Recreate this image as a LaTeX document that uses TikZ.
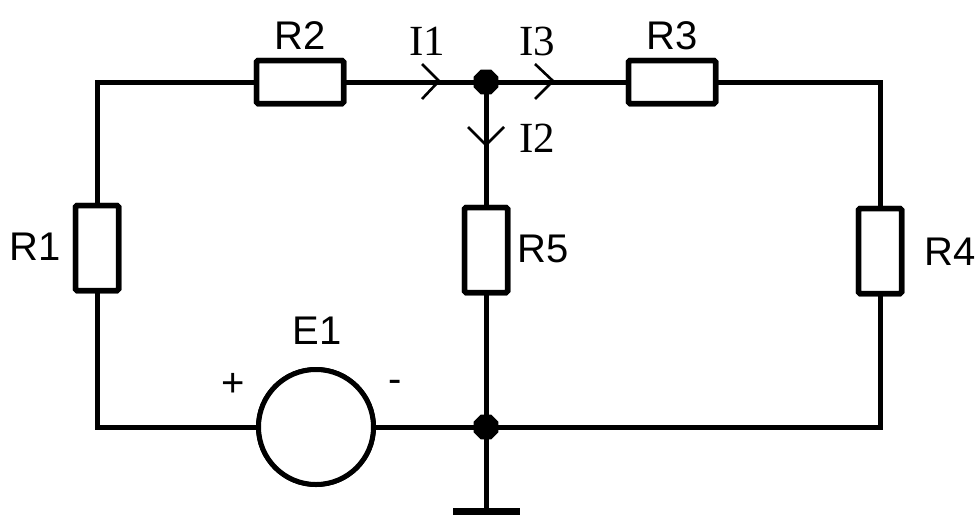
\documentclass[tikz,border=0pt]{standalone}
\usepackage{fontspec}
\usetikzlibrary{shapes.geometric}
\setmainfont{Liberation Sans}
\newfontfamily\serifface{Liberation Serif}
\begin{document}
\begin{tikzpicture}[x=1pt,y=-1pt,
  wire/.style={line width=5pt},
  resv/.style={draw,line width=5.5pt,rounded corners=1.5pt,fill=white,inner sep=0pt,minimum width=43pt,minimum height=85pt},
  resh/.style={draw,line width=5.5pt,rounded corners=1.5pt,fill=white,inner sep=0pt,minimum width=87pt,minimum height=43pt},
  src/.style={draw,circle,line width=5pt,fill=white,inner sep=0pt,minimum size=115pt},
  dot/.style={regular polygon,regular polygon sides=8,fill=black,inner sep=0pt,minimum size=27pt},
  lab/.style={inner sep=0pt,font=\fontsize{40}{40}\selectfont},
  ilab/.style={inner sep=0pt,font=\serifface\fontsize{43}{43}\selectfont},
  chev/.style={line width=2.6pt}]
\useasboundingbox (0,0) rectangle (979,514);
% components
\node[resv] (R1) at (97,248) {};
\node[resh] (R2) at (300,82) {};
\node[resh] (R3) at (672,82) {};
\node[resv] (R4) at (880,251) {};
\node[resv] (R5) at (486,250) {};
\node[src]  (E1) at (316,427) {};
\coordinate (jt) at (486,82);
\coordinate (jb) at (486,427);
\coordinate (gnd) at (486,508);
\coordinate (gl) at (453,511);
\coordinate (gr) at (520,511);
% wires
\draw[wire] (R1.north) |- (R2.west);
\draw[wire] (R2.east) -- (jt) -- (R3.west);
\draw[wire] (R3.east) -| (R4.north);
\draw[wire] (R4.south) |- (jb);
\draw[wire] (R1.south) |- (E1.west);
\draw[wire] (E1.east) -- (jb);
\draw[wire] (jt) -- (R5.north);
\draw[wire] (R5.south) -- (jb);
\draw[wire] (jb) -- (gnd);
\draw[line width=7pt] (gl) -- (gr);
% redraw components on top
\node[resv] at (R1) {};
\node[resh] at (R2) {};
\node[resh] at (R3) {};
\node[resv] at (R4) {};
\node[resv] at (R5) {};
\node[src] at (E1) {};
\node[dot] (dt) at (jt) {};
\node[dot] (db) at (jb) {};
% current arrows
\draw[chev] (422,64) -- (439,81) -- (422,99);
\draw[chev] (535,64) -- (553,81) -- (535,99);
\draw[chev] (468,127) -- (486,145) -- (504,127);
% labels
\node[lab] (lR1) at (35,247) {R1};
\node[lab] (lR2) at (300,36) {R2};
\node[lab] (lR3) at (672,36) {R3};
\node[lab] (lR4) at (950,252) {R4};
\node[lab] (lR5) at (543,249) {R5};
\node[lab] (lE1) at (317,331) {E1};
\node[lab,anchor=base] (lp) at (233,396) {+};
\node[lab,anchor=base] (lm) at (395,392) {-};
\node[ilab] (lI1) at (427,41) {I1};
\node[ilab] (lI3) at (537,41) {I3};
\node[ilab] (lI2) at (537,138) {I2};
\end{tikzpicture}
\end{document}
